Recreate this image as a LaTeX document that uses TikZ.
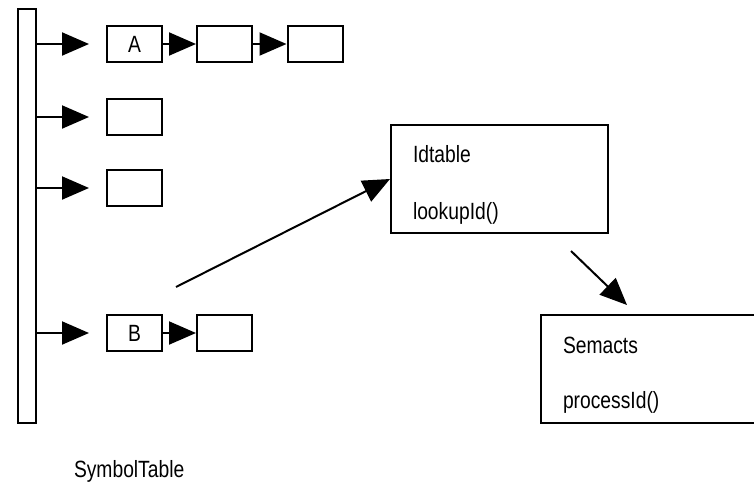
\documentclass[tikz,border=0pt]{standalone}
\usepackage{fontspec}
\setmainfont{Liberation Sans}[FakeStretch=0.82]
\usepackage{tikz}
\usetikzlibrary{arrows.meta}

\begin{document}
\begin{tikzpicture}[x=1pt, y=-1pt, line width=2pt,
    font=\fontsize{23.5}{28}\selectfont,
    >={Triangle[length=27pt, width=23pt]},
    cell/.style={draw, minimum width=55pt, minimum height=36pt, inner sep=0pt},
    classbox/.style={draw, minimum width=217pt, minimum height=108pt, inner sep=0pt},
    member/.style={anchor=base west, inner sep=0pt}]
      \useasboundingbox (0,0) rectangle (754,482);
      % the table itself
      \node [draw, minimum width=18pt, minimum height=414pt, inner sep=0pt] (bar) at (27,216) {};
      \node [cell] (A) at (134.5,44) {A};
      \node [cell] (A2) at (224.5,44) {};
      \node [cell] (A3) at (315,44) {};
      \node [cell] (R2) at (134.5,117) {};
      \node [cell] (R3) at (134.5,188) {};
      \node [cell] (B) at (134.5,333) {B};
      \node [cell] (B2) at (224.5,333) {};
      \node [member] (title) at (73,477) {SymbolTable};
      % classes
      \node [classbox] (Idtable) at (499.5,179) {};
      \node [member] (idname) at (412,162) {Idtable};
      \node [member] (idop) at (412,219) {lookupId()};
      \node [classbox, minimum width=280pt] (Semacts) at (681,369) {};
      \node [member] (semname) at (562,353) {Semacts};
      \node [member] (semop) at (562,408) {processId()};
      \coordinate (src) at (176,287);
      \coordinate (lookOut) at (571,251);
      \coordinate (semIn) at (627,305);
      \draw [->, shorten > = 17pt] (bar.east |- A) -- (A);
      \draw [->, shorten > = 17pt] (bar.east |- R2) -- (R2);
      \draw [->, shorten > = 17pt] (bar.east |- R3) -- (R3);
      \draw [->, shorten > = 17pt] (bar.east |- B) -- (B);
      \draw [->] (A) -- (A2);
      \draw [->] (A2) -- (A3);
      \draw [->] (B) -- (B2);
      \draw [->] (src) -- (Idtable.west);
      \draw [->] (lookOut) -- (semIn);
\end{tikzpicture}
\end{document}
